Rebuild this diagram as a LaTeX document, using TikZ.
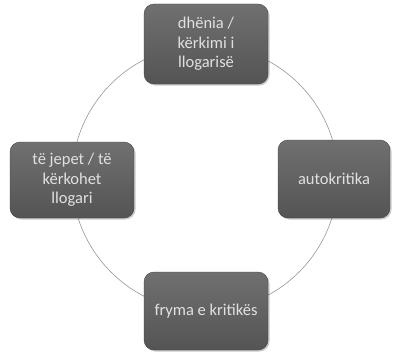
\documentclass[tikz,border=0pt]{standalone}
\usepackage{fontspec}
\setmainfont{Carlito}
\usetikzlibrary{shadows}
\definecolor{boxtop}{RGB}{112,112,112}
\definecolor{boxbot}{RGB}{84,84,84}
\definecolor{txt}{RGB}{225,225,225}
\definecolor{ring}{RGB}{150,150,150}
\tikzset{
  cyclebox/.style={rounded corners=10pt, top color=boxtop, bottom color=boxbot,
    draw=boxbot!80!black, line width=0.4pt, text=txt, align=center,
    font=\fontsize{16.5}{19.5}\selectfont, inner sep=0pt,
    drop shadow={shadow xshift=1.5pt, shadow yshift=-1.5pt, opacity=0.35, fill=black!60}}
}
\begin{document}
\begin{tikzpicture}[x=1pt,y=-1pt]
\useasboundingbox (0,0) rectangle (395,353);
\draw[ring, line width=0.6pt] (205,178) circle[radius=133];
\node[cyclebox, minimum width=124pt, minimum height=80pt] (top) at (206,44) {dhënia /\\kërkimi i\\llogarisë};
\node[cyclebox, minimum width=124pt, minimum height=76pt] (left) at (72,180) {të jepet / të\\kërkohet\\llogari};
\node[cyclebox, minimum width=112pt, minimum height=78pt] (right) at (334,179) {autokritika};
\node[cyclebox, minimum width=124pt, minimum height=78pt] (bottom) at (206,311) {fryma e kritikës};
\end{tikzpicture}
\end{document}
